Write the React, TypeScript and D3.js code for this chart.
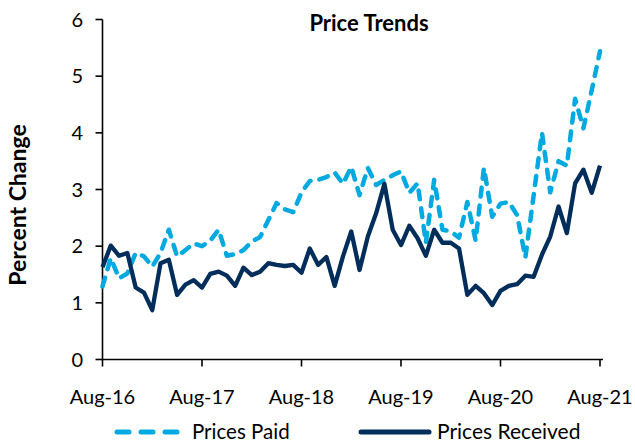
import React from 'react';
import * as d3 from 'd3';

// monthly, Aug-16 .. Aug-21
const months = d3.range(61);
const tickMonths = [0, 12, 24, 36, 48, 60];
const tickLabels = ['Aug-16', 'Aug-17', 'Aug-18', 'Aug-19', 'Aug-20', 'Aug-21'];
const yTicks = [0, 1, 2, 3, 4, 5, 6];

const pricesPaid = [
  1.29, 1.79, 1.43, 1.52, 1.88, 1.82, 1.64, 1.88, 2.29, 1.82,
  1.93, 2.05, 2.0, 2.1, 2.29, 1.83, 1.86, 1.93, 2.08, 2.16,
  2.46, 2.76, 2.65, 2.6, 2.95, 3.15, 3.17, 3.22, 3.3, 3.1,
  3.4, 2.9, 3.38, 3.08, 3.17, 3.25, 3.32, 2.94, 3.11, 2.06,
  3.17, 2.29, 2.26, 2.15, 2.78, 2.1, 3.38, 2.52, 2.75, 2.78,
  2.55, 1.8, 2.9, 4.0, 2.95, 3.5, 3.42, 4.6, 4.08, 4.75,
  5.44,
];

const pricesReceived = [
  1.63, 2.01, 1.83, 1.88, 1.27, 1.18, 0.87, 1.7, 1.76, 1.14,
  1.32, 1.4, 1.27, 1.51, 1.55, 1.48, 1.3, 1.62, 1.49, 1.55,
  1.7, 1.67, 1.65, 1.67, 1.53, 1.96, 1.67, 1.81, 1.3, 1.82,
  2.26, 1.58, 2.17, 2.58, 3.1, 2.29, 2.02, 2.36, 2.14, 1.83,
  2.29, 2.06, 2.06, 1.96, 1.14, 1.3, 1.17, 0.96, 1.21, 1.3,
  1.33, 1.48, 1.46, 1.85, 2.17, 2.7, 2.23, 3.11, 3.35, 2.94,
  3.42,
];

const paidColor = '#00a9e0';
const recvColor = '#002d5a';
const font = 'Lato, "Open Sans", sans-serif';

export default function App() {
  const x = d3.scaleLinear().domain([0, 60]).range([102.5, 600]);
  const y = d3.scaleLinear().domain([0, 6]).range([359.5, 19.5]);

  const line = d3.line<number>()
    .x((d, i) => x(months[i]))
    .y(d => y(d));

  return (
    <svg width={635} height={444} style={{ position: 'absolute', left: 0, top: 0, fontFamily: font }}>
      <rect width={635} height={444} fill="#fff" />
      <text x={369} y={31} textAnchor="middle" fontSize={22} fontWeight="bold">Price Trends</text>

      {/* y axis */}
      <line x1={x(0)} x2={x(0)} y1={y(6)} y2={y(0)} stroke="#000" strokeWidth={1.6} />
      {yTicks.map(t => (
        <g key={t}>
          <line x1={x(0) - 7} x2={x(0)} y1={y(t)} y2={y(t)} stroke="#000" strokeWidth={1.6} />
          <text x={83} y={y(t)} dy="0.35em" textAnchor="end" fontSize={20}>{t}</text>
        </g>
      ))}
      <text transform={`translate(26,205) rotate(-90)`} textAnchor="middle" fontSize={23} fontWeight="bold">Percent Change</text>

      {/* x axis */}
      <line x1={x(0)} x2={603} y1={y(0)} y2={y(0)} stroke="#000" strokeWidth={1.6} />
      {tickMonths.map((m, i) => (
        <g key={m}>
          <line x1={x(m)} x2={x(m)} y1={y(0)} y2={y(0) + 7} stroke="#000" strokeWidth={1.6} />
          <text x={x(m)} y={404} textAnchor="middle" fontSize={20}>{tickLabels[i]}</text>
        </g>
      ))}

      <path d={line(pricesPaid) || ''} fill="none" stroke={paidColor} strokeWidth={4.5}
        strokeDasharray="9 9" strokeLinecap="round" strokeLinejoin="round" />
      <path d={line(pricesReceived) || ''} fill="none" stroke={recvColor} strokeWidth={4.3}
        strokeLinejoin="round" />

      {/* legend */}
      <line x1={117} x2={178} y1={432} y2={432} stroke={paidColor} strokeWidth={5}
        strokeDasharray="12 12" strokeLinecap="round" />
      <text x={192} y={439} fontSize={20.5}>Prices Paid</text>
      <line x1={361} x2={429} y1={432} y2={432} stroke={recvColor} strokeWidth={5} strokeLinecap="round" />
      <text x={437} y={439} fontSize={21}>Prices Received</text>
    </svg>
  );
}
